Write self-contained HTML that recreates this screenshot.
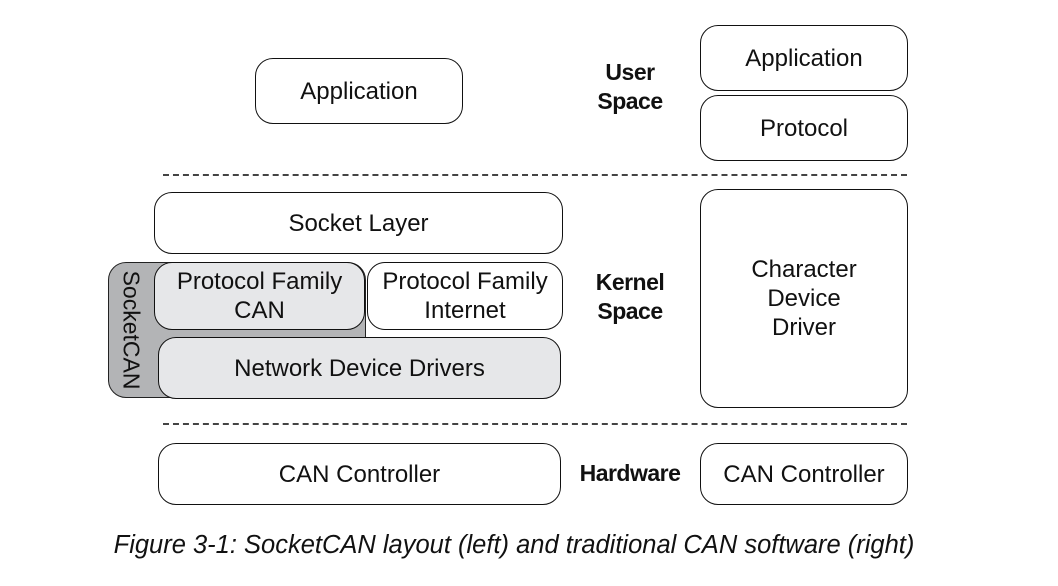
<!DOCTYPE html>
<html><head><style>
body{margin:0;width:1058px;height:586px;background:#fff;position:relative;overflow:hidden;font-family:"Liberation Sans",sans-serif;}
.b{position:absolute;box-sizing:border-box;border:1.5px solid #111;border-radius:18px;background:#fff;display:flex;align-items:center;justify-content:center;text-align:center;font-size:24px;line-height:29px;color:#111;}
.g{background:#e6e7e9;}
.l{position:absolute;font-weight:bold;font-size:23px;line-height:29px;text-align:center;color:#111;letter-spacing:-0.5px;}
.d{position:absolute;left:163px;width:744px;height:0;border-top:2px dashed #444;}
</style></head><body>
<div class="b" style="left:255px;top:58px;width:208px;height:66px;">Application</div>
<div class="b" style="left:700px;top:25px;width:208px;height:66px;">Application</div>
<div class="b" style="left:700px;top:95px;width:208px;height:66px;">Protocol</div>
<div class="l" style="left:580px;top:58px;width:100px;">User<br>Space</div>
<div class="d" style="top:174px;"></div>
<div class="b" style="left:154px;top:192px;width:409px;height:62px;">Socket Layer</div>
<div style="position:absolute;left:108px;top:262px;width:258px;height:136px;background:#b3b4b6;border:1.5px solid #222;border-radius:18px;box-sizing:border-box;"></div>
<div style="position:absolute;left:131px;top:330px;transform:translate(-50%,-50%) rotate(90deg);font-size:23px;color:#111;white-space:nowrap;">SocketCAN</div>
<div class="b g" style="left:154px;top:262px;width:211px;height:68px;">Protocol Family<br>CAN</div>
<div class="b" style="left:367px;top:262px;width:196px;height:68px;">Protocol Family<br>Internet</div>
<div class="b g" style="left:158px;top:337px;width:403px;height:62px;">Network Device Drivers</div>
<div class="l" style="left:580px;top:268px;width:100px;">Kernel<br>Space</div>
<div class="b" style="left:700px;top:189px;width:208px;height:219px;">Character<br>Device<br>Driver</div>
<div class="d" style="top:423px;"></div>
<div class="b" style="left:158px;top:443px;width:403px;height:62px;">CAN Controller</div>
<div class="l" style="left:565px;top:459px;width:130px;">Hardware</div>
<div class="b" style="left:700px;top:443px;width:208px;height:62px;">CAN Controller</div>
<div style="position:absolute;left:0;width:1028px;top:531px;text-align:center;font-style:italic;font-size:25.5px;color:#111;">Figure 3-1: SocketCAN layout (left) and traditional CAN software (right)</div>
</body></html>
